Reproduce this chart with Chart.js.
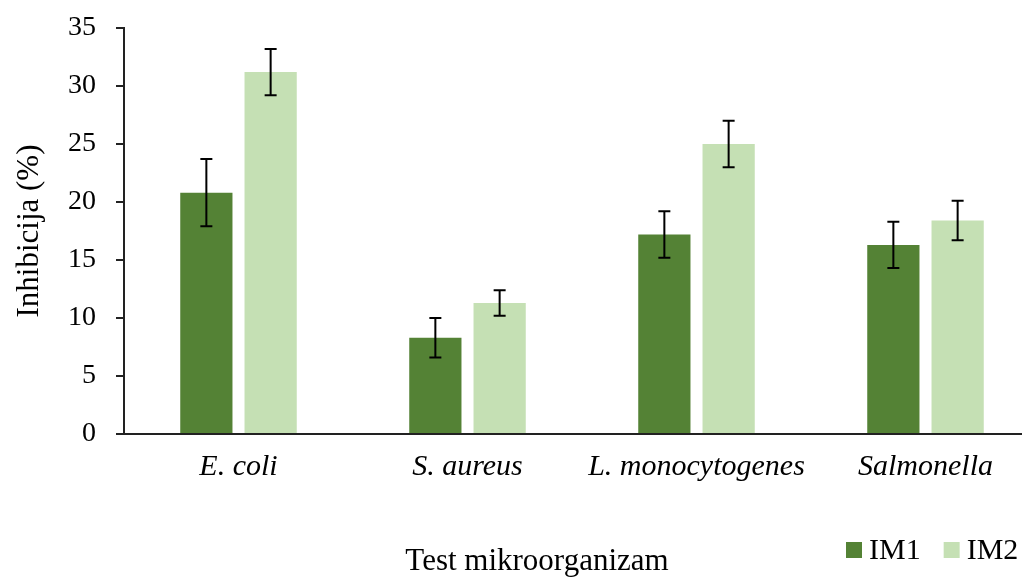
<!DOCTYPE html>
<html>
<head>
<meta charset="utf-8">
<script src="https://cdn.jsdelivr.net/npm/chart.js@4"></script>
<style>
  html, body { margin: 0; padding: 0; background: #fff; overflow: hidden; }
  #wrap { width: 1040px; height: 577px; }
</style>
</head>
<body>
<div id="wrap"><canvas id="chart"></canvas></div>
<script>
// ===== DATA =====
const categories = ['E. coli', 'S. aureus', 'L. monocytogenes', 'Salmonella'];
const seriesNames = ['IM1', 'IM2'];
const im1Values = [20.8, 8.3, 17.2, 16.3];
const im2Values = [31.2, 11.3, 25.0, 18.4];
const im1Errors = [2.9, 1.7, 2.0, 2.0];
const im2Errors = [2.0, 1.1, 2.0, 1.7];
const yTicks = [0, 5, 10, 15, 20, 25, 30, 35];

const colors = ['#548235', '#C5E0B4'];
const serif = "'Liberation Serif', 'Times New Roman', serif";

// Error bars drawn on top of the bars
const errorBars = {
    id: 'errorBars',
    afterDatasetsDraw(chart) {
        const ctx = chart.ctx;
        const y = chart.scales.y;
        ctx.save();
        ctx.strokeStyle = '#000';
        ctx.lineWidth = 2;
        chart.data.datasets.forEach((ds, di) => {
            const meta = chart.getDatasetMeta(di);
            meta.data.forEach((bar, i) => {
                const v = ds.data[i], e = ds.errors[i];
                const top = y.getPixelForValue(v + e);
                const bot = y.getPixelForValue(v - e);
                ctx.beginPath();
                ctx.moveTo(bar.x, top); ctx.lineTo(bar.x, bot);
                ctx.moveTo(bar.x - 6, top); ctx.lineTo(bar.x + 6, top);
                ctx.moveTo(bar.x - 6, bot); ctx.lineTo(bar.x + 6, bot);
                ctx.stroke();
            });
        });
        ctx.restore();
    }
};

// X title + legend in the bottom strip
const bottomStrip = {
    id: 'bottomStrip',
    afterDraw(chart) {
        const ctx = chart.ctx;
        ctx.save();
        ctx.fillStyle = '#000';
        ctx.textBaseline = 'middle';
        ctx.font = '31px ' + serif;
        ctx.textAlign = 'center';
        ctx.fillText('Test mikroorganizam', 537, 562);

        ctx.font = '30px ' + serif;
        ctx.textAlign = 'left';
        let x = 846;
        chart.data.datasets.forEach(ds => {
            ctx.fillStyle = ds.backgroundColor;
            ctx.fillRect(x, 542, 16, 16);
            ctx.fillStyle = '#000';
            ctx.fillText(ds.label, x + 23, 551);
            x += 23 + ctx.measureText(ds.label).width + 23;
        });
        ctx.restore();
    }
};

new Chart(document.getElementById('chart'), {
    type: 'bar',
    data: {
        labels: categories,
        datasets: [
            { label: seriesNames[0], data: im1Values, errors: im1Errors, backgroundColor: colors[0] },
            { label: seriesNames[1], data: im2Values, errors: im2Errors, backgroundColor: colors[1] }
        ]
    },
    options: {
        responsive: true,
        maintainAspectRatio: false,
        animation: false,
        categoryPercentage: 0.5614,
        barPercentage: 0.8125,
        layout: { padding: { top: 28, left: 0, right: 0, bottom: 0 } },
        plugins: { legend: { display: false }, tooltip: { enabled: false } },
        scales: {
            x: {
                grid: { display: false, drawTicks: false },
                border: { display: true, color: '#222', width: 2 },
                ticks: {
                    color: '#000',
                    padding: 15,
                    font: { family: serif, size: 30, style: 'italic' }
                },
                afterFit(scale) { scale.height = 143; }
            },
            y: {
                min: 0,
                max: 35,
                afterBuildTicks(scale) { scale.ticks = yTicks.map(v => ({ value: v })); },
                grid: { display: true, drawOnChartArea: false, drawTicks: true, tickLength: 8, color: '#222', lineWidth: 2 },
                border: { display: true, color: '#222', width: 2 },
                ticks: {
                    color: '#000',
                    padding: 20,
                    font: { family: serif, size: 28 }
                },
                title: {
                    display: true,
                    text: 'Inhibicija (%)',
                    color: '#000',
                    padding: { top: 11, bottom: 0 },
                    font: { family: serif, size: 31 }
                },
                afterFit(scale) {
                    scale.width = 124;
                    scale.paddingTop = 0;
                    scale.paddingBottom = 0;
                }
            }
        }
    },
    plugins: [errorBars, bottomStrip]
});
</script>
</body>
</html>
